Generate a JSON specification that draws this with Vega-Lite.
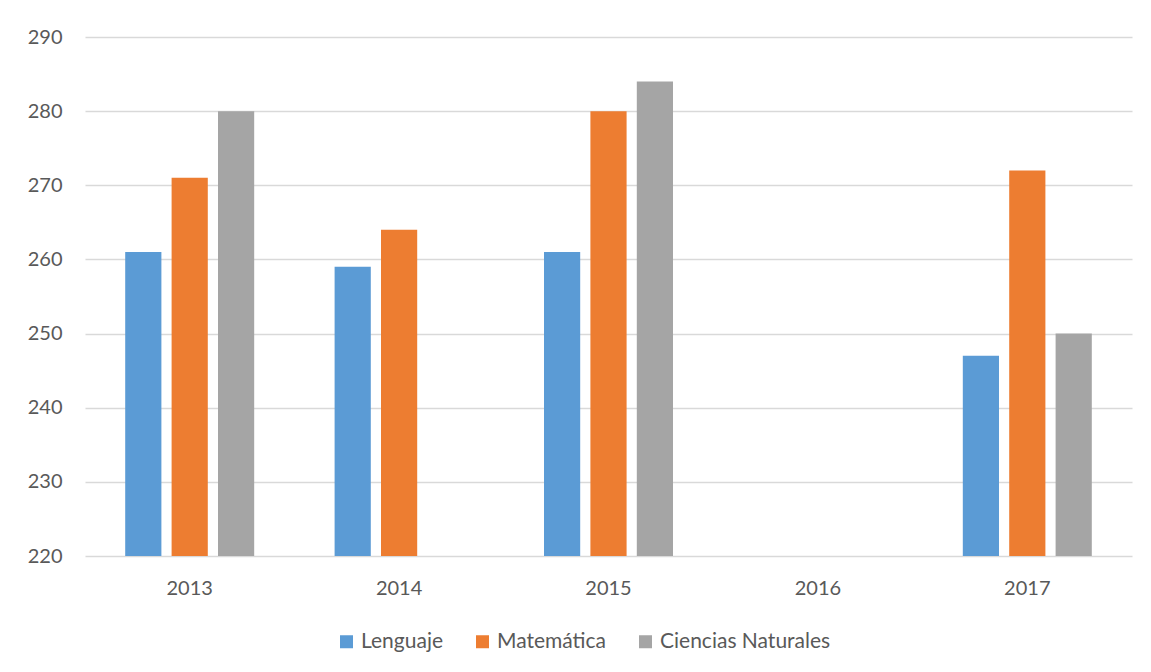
{
  "$schema": "https://vega.github.io/schema/vega-lite/v6.json",
  "autosize": {"type": "none"},
  "width": 1047,
  "height": 519,
  "padding": {"left": 85, "top": 37, "right": 19, "bottom": 116},
  "background": "#ffffff",
  "config": {
    "font": "Lato",
    "view": {"stroke": null},
    "axis": {"labelColor": "#595959", "labelFont": "Lato", "labelFontSize": 20, "title": null}
  },
  "data": {
    "values": [
      {"anio": "2013", "area": "Lenguaje", "puntaje": 261},
      {"anio": "2013", "area": "Matemática", "puntaje": 271},
      {"anio": "2013", "area": "Ciencias Naturales", "puntaje": 280},
      {"anio": "2014", "area": "Lenguaje", "puntaje": 259},
      {"anio": "2014", "area": "Matemática", "puntaje": 264},
      {"anio": "2015", "area": "Lenguaje", "puntaje": 261},
      {"anio": "2015", "area": "Matemática", "puntaje": 280},
      {"anio": "2015", "area": "Ciencias Naturales", "puntaje": 284},
      {"anio": "2017", "area": "Lenguaje", "puntaje": 247},
      {"anio": "2017", "area": "Matemática", "puntaje": 272},
      {"anio": "2017", "area": "Ciencias Naturales", "puntaje": 250}
    ]
  },
  "mark": {"type": "bar"},
  "encoding": {
    "x": {
      "field": "anio",
      "type": "nominal",
      "scale": {"domain": ["2013", "2014", "2015", "2016", "2017"], "paddingInner": 0.384, "paddingOuter": 0.192},
      "axis": {"labelAngle": 0, "domain": false, "ticks": false, "labelPadding": 22}
    },
    "xOffset": {
      "field": "area",
      "type": "nominal",
      "scale": {"domain": ["Lenguaje", "Matemática", "Ciencias Naturales"], "paddingInner": 0.22, "paddingOuter": 0}
    },
    "y": {
      "field": "puntaje",
      "type": "quantitative",
      "scale": {"domain": [220, 290], "zero": false, "nice": false},
      "axis": {
        "values": [220, 230, 240, 250, 260, 270, 280, 290],
        "domain": false,
        "ticks": false,
        "labelPadding": 23,
        "grid": true,
        "gridColor": "#d9d9d9",
        "gridWidth": 1.3
      }
    },
    "y2": {"datum": 220},
    "color": {
      "field": "area",
      "type": "nominal",
      "scale": {
        "domain": ["Lenguaje", "Matemática", "Ciencias Naturales"],
        "range": ["#5b9bd5", "#ed7d31", "#a5a5a5"]
      },
      "legend": {
        "title": null,
        "orient": "none",
        "direction": "horizontal",
        "legendX": 251,
        "legendY": 594,
        "symbolType": "square",
        "symbolSize": 169,
        "symbolStrokeWidth": 0,
        "symbolOpacity": 1,
        "labelFont": "Lato",
        "labelFontSize": 21,
        "labelLimit": 400,
        "labelColor": "#595959",
        "labelOffset": 4,
        "columnPadding": 28
      }
    }
  }
}
